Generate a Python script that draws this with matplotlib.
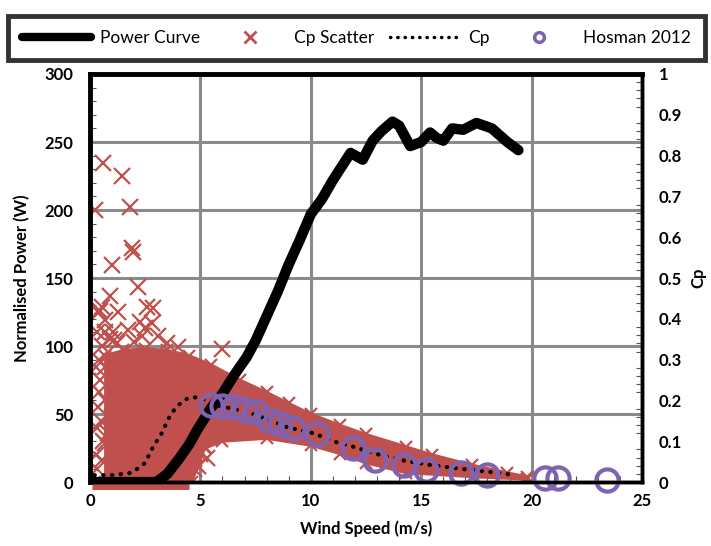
import numpy as np
import matplotlib
matplotlib.use("Agg")
import matplotlib.pyplot as plt
from matplotlib.lines import Line2D
from matplotlib.ticker import MultipleLocator
from matplotlib.transforms import ScaledTranslation

plt.rcParams['font.family'] = ['Lato', 'DejaVu Sans']

# power curve (W)
wind_power = [0.2, 1.0, 2.0, 3.0, 3.5, 4.07, 4.5, 4.84, 5.5, 6.0, 6.5, 7.1, 7.5, 8.0,
              8.5, 9.0, 9.5, 10.0, 10.5, 11.0, 11.4, 11.8, 12.35, 12.8, 13.2, 13.7,
              14.0, 14.5, 15.0, 15.4, 15.7, 16.0, 16.4, 16.9, 17.5, 18.2, 18.9, 19.4]
power = [0, 0, 0, 0, 6, 18, 28, 38, 55, 65, 78, 92, 104, 122,
         140, 160, 178, 197, 208, 222, 232, 242, 237, 251, 258, 265,
         262, 247, 250, 257, 253, 251, 260, 259, 264, 260, 250, 244]

# Cp line
wind_cp = [0.2, 1.0, 1.9, 2.5, 2.85, 3.25, 3.6, 3.85, 4.15, 4.45, 4.84, 5.3, 5.6,
           6.6, 7.5, 8.9, 10.1, 11.2, 11.9, 13.1, 14.2, 15.4, 16.9, 18.1, 19.3]
cp = [0.017, 0.017, 0.023, 0.047, 0.086, 0.12, 0.16, 0.18, 0.196, 0.206, 0.208, 0.2, 0.19,
      0.178, 0.165, 0.135, 0.12, 0.097, 0.087, 0.067, 0.053, 0.042, 0.032, 0.025, 0.017]

# Hosman 2012
wind_hosman = [5.5, 6.0, 6.5, 7.0, 7.5, 8.1, 8.6, 9.2, 10.3, 11.9, 12.9, 14.2, 15.2,
               16.8, 18.0, 20.6, 21.2, 23.4]
cp_hosman = [0.19, 0.187, 0.183, 0.177, 0.173, 0.153, 0.143, 0.133, 0.117, 0.083,
             0.053, 0.043, 0.03, 0.023, 0.018, 0.01, 0.01, 0.005]

# Cp scatter: dense cloud outline (upper / lower edge) and the loose points
cloud_upper_x = [0.7, 1.5, 2.5, 3.5, 4.5, 5.5, 6.8, 8.0, 9.0, 10.0, 11.3, 12.5, 14.3,
                 15.5, 17.3, 18.9, 19.8]
cloud_upper = [0.31, 0.323, 0.327, 0.323, 0.31, 0.287, 0.25, 0.22, 0.193, 0.167, 0.14,
               0.117, 0.087, 0.067, 0.042, 0.023, 0.013]
cloud_lower_x = [19.8, 17.3, 14.3, 12.5, 11.3, 10.0, 8.0, 6.0, 5.2, 4.8, 4.6, 0.7]
cloud_lower = [0.007, 0.013, 0.023, 0.047, 0.07, 0.09, 0.107, 0.1, 0.083, 0.027, 0.0, 0.0]

scatter_x = [0.59, 1.45, 0.23, 1.8, 1.9, 1.95, 1.0, 2.17, 0.9, 2.58, 2.85, 0.45, 1.27,
             0.68, 2.26, 2.5, 1.04, 0.54, 2.8, 1.7, 1.1, 2.35, 3.1, 0.7, 6.0, 5.1, 5.3,
             0.68, 0.68, 0.54, 1.0, 1.1, 0.68, 1.6, 0.3, 0.4, 1.3, 0.3,
             0.25, 0.35, 0.45, 0.3, 0.55, 0.25, 0.5, 0.6, 0.35, 0.9, 1.2, 2.0, 3.5, 4.0,
             4.9, 5.0, 0.8, 0.4]
scatter_cp = [0.783, 0.75, 0.667, 0.673, 0.573, 0.563, 0.533, 0.477, 0.457, 0.43, 0.427,
              0.42, 0.417, 0.397, 0.393, 0.377, 0.367, 0.43, 0.39, 0.373, 0.347, 0.357,
              0.357, 0.367, 0.327, 0.09, 0.06, 0.2, 0.097, 0.053, 0.16, 0.243, 0.283,
              0.233, 0.133, 0.3, 0.3, 0.033,
              0.067, 0.183, 0.25, 0.367, 0.333, 0.283, 0.15, 0.1, 0.417, 0.35, 0.34,
              0.343, 0.34, 0.33, 0.04, 0.07, 0.12, 0.22]

P_MAX = 300
CP_MAX = 1.0
k = P_MAX / CP_MAX   # Cp -> left axis units

red = '#c0504d'
purple = '#7f63b3'
grey = '#8a8a8a'

fig = plt.figure(figsize=(7.11, 5.46), dpi=100)
ax = fig.add_axes([0.1266, 0.117, 0.7764, 0.7475])
ax2 = ax.twinx()

ax.set_axisbelow(True)
ax.grid(True, color=grey, lw=2.2)

cx = cloud_upper_x + cloud_lower_x
cy = np.array(cloud_upper + cloud_lower) * k
ax.fill(cx, cy, color=red, lw=2, zorder=2)
ax.plot(cloud_upper_x, np.array(cloud_upper) * k, ls='none', marker='x', ms=9,
        mew=1.6, color=red, zorder=2)
ax.plot(cloud_lower_x, np.array(cloud_lower) * k, ls='none', marker='x', ms=9,
        mew=1.6, color=red, zorder=2)
ax.plot(scatter_x, np.array(scatter_cp) * k, ls='none', marker='x', ms=11, mew=1.6,
        color=red, zorder=2)
# points sitting at Cp = 0 show as a band just under the axis
shift = ax.transData + ScaledTranslation(0, -4 / 100, fig.dpi_scale_trans)
ax.plot([0.1, 4.5], [0, 0], color=red, lw=5, clip_on=False, zorder=1.5,
        solid_capstyle='butt', transform=shift)

ax.plot(wind_power, power, color='k', lw=7.5, solid_capstyle='round',
        solid_joinstyle='round', zorder=3)
ax.plot(wind_cp, np.array(cp) * k, color='k', lw=3, ls=(0, (0.1, 2)),
        dash_capstyle='round', zorder=4)
ax.plot(wind_hosman, np.array(cp_hosman) * k, ls='none', marker='o', ms=16,
        mfc='none', mec=purple, mew=3, zorder=5, clip_on=False)

ax.set_xlim(0, 25)
ax.set_ylim(0, P_MAX)
ax2.set_ylim(0, CP_MAX)
ax.xaxis.set_major_locator(MultipleLocator(5))
ax.xaxis.set_minor_locator(MultipleLocator(1))
ax.yaxis.set_major_locator(MultipleLocator(50))
ax.yaxis.set_minor_locator(MultipleLocator(10))
ax2.set_yticks([i / 10 for i in range(11)])
ax2.set_yticklabels(['0', '0.1', '0.2', '0.3', '0.4', '0.5', '0.6', '0.7', '0.8', '0.9', '1'])
ax2.yaxis.set_minor_locator(MultipleLocator(0.02))

for a in (ax, ax2):
    for s in a.spines.values():
        s.set_linewidth(2.5)
        s.set_color('k')
    a.tick_params(which='major', length=0, labelsize=12, pad=12)
    a.tick_params(which='minor', direction='in', length=4, width=0.8, color='#555555')
    for lab in a.get_xticklabels() + a.get_yticklabels():
        lab.set_fontweight('bold')
ax.spines['left'].set_linewidth(3.5)
ax.spines['top'].set_linewidth(3.5)
ax.tick_params(axis='x', pad=8)

ax.set_xlabel('Wind Speed (m/s)', fontsize=12, fontweight='bold', labelpad=8)
ax.set_ylabel('Normalised Power (W)', fontsize=12, fontweight='bold', labelpad=10)
ax2.set_ylabel('Cp', fontsize=12, fontweight='bold', labelpad=6)

handles = [
    Line2D([], [], color='k', lw=6, solid_capstyle='round'),
    Line2D([], [], ls='none', marker='x', color=red, ms=8, mew=2),
    Line2D([], [], color='k', lw=2.5, ls=(0, (0.1, 2)), dash_capstyle='round'),
    Line2D([], [], ls='none', marker='o', mfc='none', mec=purple, ms=7, mew=2.5),
]
labels = ['Power Curve', 'Cp Scatter', 'Cp', 'Hosman 2012']
leg = fig.legend(handles, labels, loc='center', ncol=4, mode='expand',
                 bbox_to_anchor=(0.011, 0.886, 0.98, 0.088), fontsize=12.5,
                 handlelength=4.0, handletextpad=0.5, borderpad=0.8,
                 frameon=True, fancybox=False, borderaxespad=0)
leg.get_frame().set_edgecolor('k')
leg.get_frame().set_linewidth(3.5)

fig.savefig('out.png', dpi=100)
